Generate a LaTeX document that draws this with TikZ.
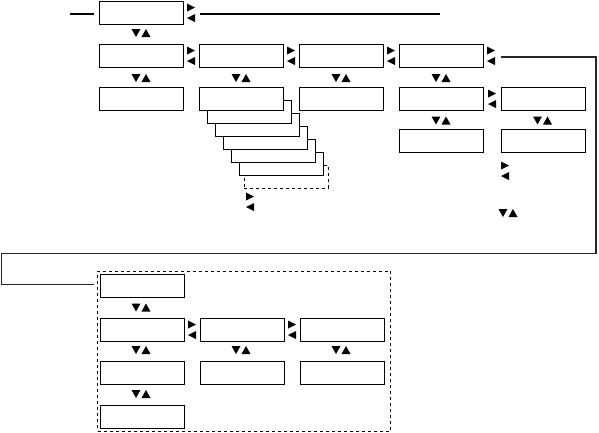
\documentclass[tikz,border=0pt]{standalone}
\begin{document}
\begin{tikzpicture}[x=1pt,y=-1pt,
  box/.style={draw=black,line width=0.9pt,fill=white,rectangle,minimum width=84pt,minimum height=23pt,inner sep=0pt,anchor=north west},
  dbox/.style={box,dashed},
  loopline/.style={draw=black!85,line width=1.4pt},
  thick line/.style={draw=black,line width=2pt},
  lr/.pic={\fill (-4,-9.5)--(4,-5.5)--(-4,-1.5)--cycle; \fill (4,1)--(-4,5)--(4,9)--cycle;},
  ud/.pic={\fill (-9.5,-4)--(-0.5,-4)--(-5,4)--cycle; \fill (0.5,4)--(9.5,4)--(5,-4)--cycle;}
]
\useasboundingbox (0,0) rectangle (599,432);
% Row 0
\node[box] (r0) at (99,0.8) {};
\coordinate (l0) at (70,14);
\coordinate (l0e) at (94,14);
\coordinate (r0s) at (200,14);
\coordinate (r0e) at (440,14);
\draw[thick line] (l0) -- (l0e);
\draw[thick line] (r0s) -- (r0e);
\pic at (191,13) {lr};
\pic at (141,33) {ud};
% Row 1
\node[box] (a1) at (99,43.5) {};
\node[box] (a2) at (199,43.5) {};
\node[box] (a3) at (299,43.5) {};
\node[box] (a4) at (399,43.5) {};
\foreach \x in {191,291,391,491} \pic at (\x,56) {lr};
\foreach \x in {141,241,341,441} \pic at (\x,78) {ud};
% Row 2 stack (drawn back to front)
\node[dbox] (s6) at (244,164.5) {};
\node[box] (s5) at (239.3,152) {};
\node[box] (s4) at (231.3,139) {};
\node[box] (s3) at (223.3,126) {};
\node[box] (s2) at (215.3,113) {};
\node[box] (s1) at (207.3,100) {};
\node[box] (b2) at (199.3,87.3) {};
\node[box] (b1) at (99,87.3) {};
\node[box] (b3) at (299,87.3) {};
\node[box] (b4) at (399,87.3) {};
\node[box] (b5) at (501,87.3) {};
\pic at (492,99) {lr};
\pic at (250,202) {lr};
\foreach \x in {441,542.5} \pic at (\x,120.5) {ud};
% Row 3
\node[box] (c4) at (399,129.3) {};
\node[box] (c5) at (501,129.3) {};
\pic at (505,171) {lr};
\pic at (508,213) {ud};
% loop connector
\coordinate (ls) at (501,57);
\coordinate (le) at (94,284.5);
\draw[loopline] (ls) -- (596,57) -- (596,253.3) -- (1.5,253.3) -- (1.5,284.5) -- (le);
% Bottom group
\node[draw=black,dashed,line width=0.9pt,rectangle,minimum width=293pt,minimum height=160pt,anchor=north west,inner sep=0pt] (grp) at (97.3,271) {};
\node[box] (d0) at (100.3,273.5) {};
\node[box] (d1) at (100.3,317.5) {};
\node[box] (d2) at (200.3,317.5) {};
\node[box] (d3) at (300.3,317.5) {};
\node[box] (e1) at (100.3,361) {};
\node[box] (e2) at (200.3,361) {};
\node[box] (e3) at (300.3,361) {};
\node[box] (f1) at (100.3,405) {};
\pic at (141,307.5) {ud};
\foreach \x in {141,241,341} \pic at (\x,350) {ud};
\pic at (141,394) {ud};
\foreach \x in {192,292} \pic at (\x,330) {lr};
\end{tikzpicture}
\end{document}
